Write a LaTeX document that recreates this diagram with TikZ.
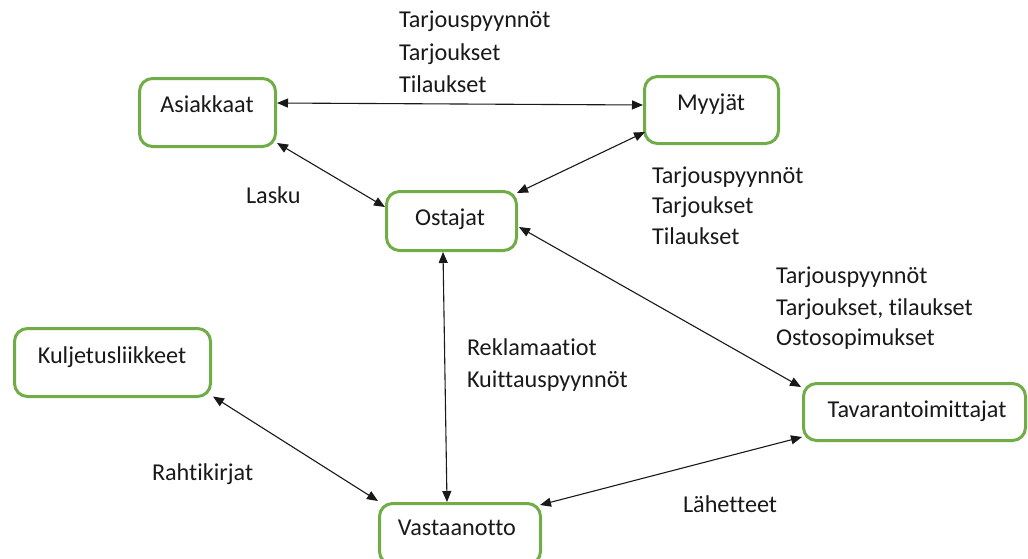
\documentclass[tikz,border=0pt]{standalone}
\usepackage{fontspec}
\setmainfont{Carlito}[Ligatures=NoCommon]
\usetikzlibrary{arrows.meta,calc}

\definecolor{boxgreen}{RGB}{112,173,71}
\definecolor{ink}{RGB}{25,25,25}

\tikzset{
  box/.style={draw=boxgreen, line width=3pt, rounded corners=13pt, fill=white,
              inner sep=0pt, outer sep=1.5pt},
  txt/.style={inner sep=0pt, outer sep=0pt, text=ink,
              font=\fontsize{24.2}{28}\selectfont},
  lbl/.style={txt, anchor=base west},
  ttl/.style={txt, anchor=base},
  flow/.style={draw=ink, line width=1.1pt,
               {Triangle[length=11pt,width=9pt]}-{Triangle[length=11pt,width=9pt]}}
}

\begin{document}
\begin{tikzpicture}[x=1pt, y=-1pt]
  \useasboundingbox (0,0) rectangle (1028,558);

  % parties
  \node[box, minimum width=136pt, minimum height=68pt] (asi) at (207.5,112.5) {};
  \node[box, minimum width=134pt, minimum height=67pt] (myy) at (711.5,110) {};
  \node[box, minimum width=130pt, minimum height=59pt] (ost) at (451.5,221) {};
  \node[box, minimum width=196pt, minimum height=68pt] (kul) at (112.5,362.5) {};
  \node[box, minimum width=222pt, minimum height=57pt] (tav) at (914.5,412) {};
  \node[box, minimum width=161pt, minimum height=61pt] (vas) at (460,534) {};

  \node[ttl] (tasi) at (207,112) {Asiakkaat};
  \node[ttl] (tmyy) at (711,110) {Myyjät};
  \node[ttl] (tost) at (450,225) {Ostajat};
  \node[ttl] (tkul) at (112,363) {Kuljetusliikkeet};
  \node[ttl] (ttav) at (917,417) {Tavarantoimittajat};
  \node[ttl] (tvas) at (457,535) {Vastaanotto};

  % document flows between the parties
  \draw[flow] ($(asi.east)+(0,-9.5)$) -- ($(myy.west)+(0,-5)$);
  \draw[flow] ($(asi.east)+(0,30.5)$) -- ($(ost.west)+(0,-14)$);
  \draw[flow] ($(myy.west)+(2,22)$) -- ($(ost.east)+(-1,-28)$);
  \draw[flow] ($(ost.east)+(1,6)$) -- ($(tav.west)+(-1,-25)$);
  \draw[flow] ($(ost.south)+(-8.5,0)$) -- ($(vas.north)+(-13,0)$);
  \draw[flow] ($(kul.east)+(1,34)$) -- ($(vas.west)+(0,-33)$);
  \draw[flow] ($(tav.west)+(0,25)$) -- ($(vas.east)+(-2,-29)$);

  % flow labels
  \node[lbl] (l1a) at (399,27) {Tarjouspyynnöt};
  \node[lbl] (l1b) at (399,60) {Tarjoukset};
  \node[lbl] (l1c) at (399,92) {Tilaukset};

  \node[lbl] (l2a) at (652,183) {Tarjouspyynnöt};
  \node[lbl] (l2b) at (652,213) {Tarjoukset};
  \node[lbl] (l2c) at (652,244) {Tilaukset};

  \node[lbl] (l3a) at (776,283) {Tarjouspyynnöt};
  \node[lbl] (l3b) at (776,315) {Tarjoukset, tilaukset};
  \node[lbl] (l3c) at (776,345) {Ostosopimukset};

  \node[lbl] (l4) at (246,203) {Lasku};

  \node[lbl] (l5a) at (467,355) {Reklamaatiot};
  \node[lbl] (l5b) at (467,387) {Kuittauspyynnöt};

  \node[lbl] (l6) at (152,480) {Rahtikirjat};
  \node[lbl] (l7) at (683,512) {Lähetteet};
\end{tikzpicture}
\end{document}
